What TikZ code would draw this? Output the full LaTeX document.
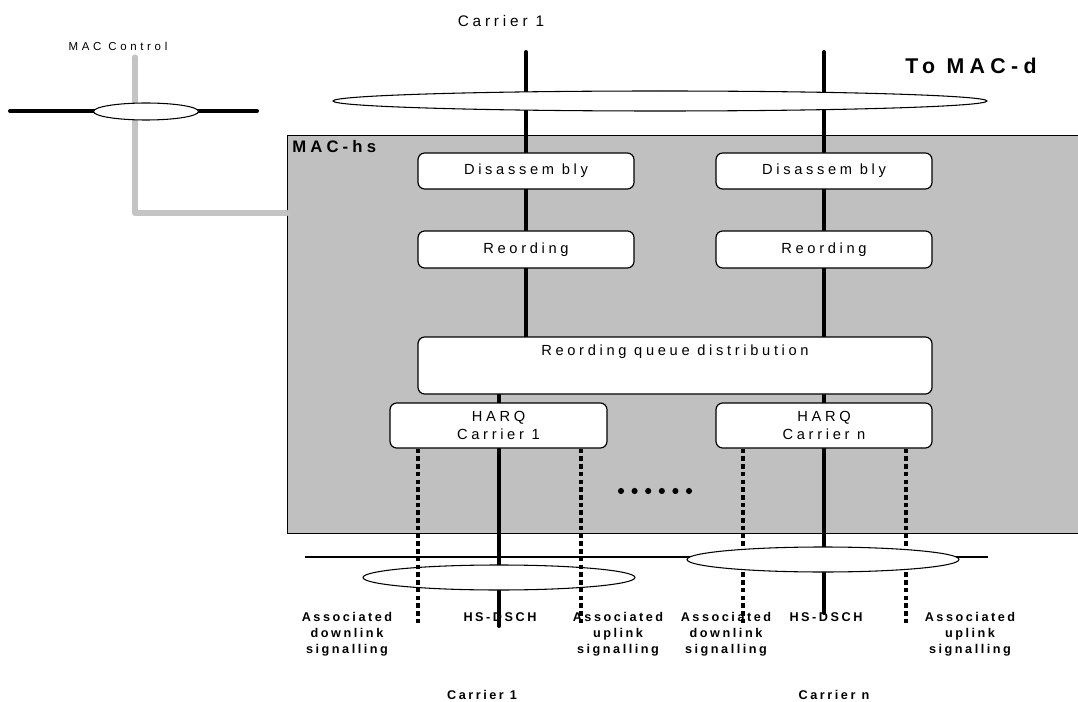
\documentclass[tikz,border=0pt]{standalone}
\usepackage{fontspec}
\setmainfont{Liberation Sans}
\newfontfamily\spf[LetterSpace=25]{Liberation Sans}
\newfontfamily\spfw[LetterSpace=32]{Liberation Sans}
\newfontfamily\spfb[LetterSpace=20]{Liberation Sans}
\usetikzlibrary{shapes.geometric}
\definecolor{macgray}{HTML}{C0C0C0}
\definecolor{ctlgray}{HTML}{C4C4C4}
\pgfdeclarelayer{base}
\pgfdeclarelayer{bg}
\pgfdeclarelayer{front}
\pgfsetlayers{base,bg,main,front}
\begin{document}
\begin{tikzpicture}[x=0.75pt,y=-0.75pt,
  pxsize/.style 2 args={minimum width=#1*0.75pt, minimum height=#2*0.75pt},
  funcbox/.style={draw=black, line width=0.9pt, fill=white, rounded corners=5pt, inner sep=0pt, font=\spf\fontsize{11}{14}\selectfont},
  chan/.style={line width=3pt},
  sig/.style={line width=3.6pt, dash pattern=on 3.4pt off 2.4pt},
  ctl/.style={draw=ctlgray, line width=3.8pt, line cap=round, line join=round},
  grp/.style={ellipse, draw=black, line width=0.8pt, fill=white, inner sep=0pt},
  lbl/.style={font=\spfb\fontsize{9.5}{12}\selectfont\bfseries, align=center, inner sep=0pt, anchor=north},
  dot/.style={circle, fill=black, inner sep=0pt, minimum size=4.6pt},
]
\useasboundingbox (0,0) rectangle (1078,702);

% MAC-hs area
\begin{pgfonlayer}{base}
\node[draw=black, line width=0.6pt, fill=macgray, pxsize={791}{398}, inner sep=0pt, anchor=north west] (mac) at (287,135) {};
\end{pgfonlayer}
\node[anchor=west, font=\spf\fontsize{12.5}{14}\selectfont\bfseries, inner sep=0pt] (machs) at (292,147) {MAC-hs};

% MAC control
\coordinate (ctltop) at (135,57);
\coordinate (ctlcorner) at (135,213);
\coordinate (ctlend) at (287,213);
\coordinate (bl) at (10,111);
\coordinate (br) at (257,111);
\draw[ctl] (ctltop) -- (ctlcorner) -- (ctlend);
\draw[chan, line cap=round] (bl) -- (br);
\node[grp, pxsize={105}{17}] (ctlell) at (146,111.5) {};
\node[font=\spfw\fontsize{8.6}{10}\selectfont] (ctltxt) at (118,46) {MAC Control};

% Top labels
\node[font=\spf\fontsize{11.5}{13}\selectfont] (car1top) at (501,21) {Carrier 1};
\node[font=\spf\fontsize{16}{18}\selectfont\bfseries] (tomacd) at (971,66) {To MAC-d};

% channel coordinates
\coordinate (t1) at (526,52);
\coordinate (t2) at (824,52);
\coordinate (b1) at (499,626);
\coordinate (b2) at (824,613);
\coordinate (d1) at (418,623);
\coordinate (d2) at (581,623);
\coordinate (d3) at (743,625);
\coordinate (d4) at (906,625);
\coordinate (hl) at (305,557);
\coordinate (hr) at (988,557);

% function boxes
\node[funcbox, pxsize={216}{36}] (dis1) at (526,171) {Disassem bly};
\node[funcbox, pxsize={216}{36}] (dis2) at (824,171) {Disassem bly};
\node[funcbox, pxsize={216}{37}] (reo1) at (526,249.5) {Reording};
\node[funcbox, pxsize={216}{37}] (reo2) at (824,249.5) {Reording};
\node[funcbox, pxsize={514}{57}] (queue) at (675,365.5) {};
\node[font=\spf\fontsize{11}{14}\selectfont] (queuetxt) at (675,352) {Reording queue distribution};
\node[funcbox, pxsize={217}{45}, align=center] (harq1) at (498.5,425.5) {HARQ\\Carrier 1};
\node[funcbox, pxsize={216}{45}, align=center] (harqn) at (824,425.5) {HARQ\\Carrier n};

% channels behind the boxes
\begin{pgfonlayer}{bg}
\draw[chan, line cap=round] (t1) -- (t1 |- queue.north);
\draw[chan, line cap=round] (b1 |- queue.south) -- (b1);
\draw[chan, line cap=round] (t2) -- (b2);
\draw[line width=0.8pt] (hl) -- (hr);
\draw[sig] (d3 |- harqn.south) -- (d3);
\draw[sig] (d4 |- harqn.south) -- (d4);
\end{pgfonlayer}

% groupings
\node[grp, pxsize={654}{20}] (topell) at (660,101) {};
\node[grp, pxsize={272}{25}] (ell1) at (499,577.5) {};
\node[grp, pxsize={272}{25}] (elln) at (823,559.5) {};

\begin{pgfonlayer}{front}
\draw[sig] (d1 |- harq1.south) -- (d1);
\draw[sig] (d2 |- harq1.south) -- (d2);
\end{pgfonlayer}

% dots
\foreach \i in {0,...,5} {
  \node[dot] (dot\i) at (621+13.6*\i,491) {};
}

% bottom labels
\node[lbl] (adl1) at (347,612.5) {Associated\\downlink\\signalling};
\node[lbl] (hs1) at (500,612.5) {HS-DSCH};
\node[lbl] (aul1) at (618,612.5) {Associated\\uplink\\signalling};
\node[lbl] (adln) at (726,612.5) {Associated\\downlink\\signalling};
\node[lbl] (hsn) at (826,612.5) {HS-DSCH};
\node[lbl] (auln) at (970,612.5) {Associated\\uplink\\signalling};
\node[lbl] (car1bot) at (482,690) {Carrier 1};
\node[lbl] (carnbot) at (834,690) {Carrier n};
\end{tikzpicture}
\end{document}
